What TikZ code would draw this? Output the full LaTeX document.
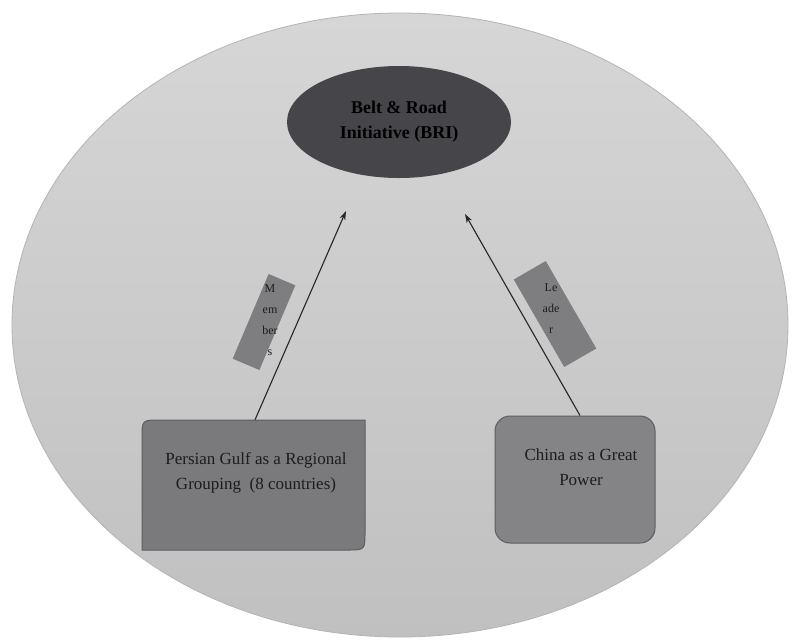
\documentclass[tikz,border=0pt]{standalone}
\usepackage{fontspec}
\setmainfont{LiberationSerif}[Extension=.ttf, UprightFont=*-Regular, BoldFont=*-Bold, ItalicFont=*-Italic, BoldItalicFont=*-BoldItalic]
\usetikzlibrary{shapes.geometric,arrows.meta}
\definecolor{frameTop}{HTML}{D6D6D6}
\definecolor{frameBot}{HTML}{C0C0C0}
\definecolor{frameEdge}{HTML}{B4B4B4}
\definecolor{darkell}{HTML}{46464A}
\definecolor{gulfgray}{HTML}{7A7A7C}
\definecolor{chinagray}{HTML}{848486}
\definecolor{boxedge}{HTML}{5E5E60}
\definecolor{labelgray}{HTML}{7E7E80}
\definecolor{inktext}{HTML}{1C1C1C}
\begin{document}
\begin{tikzpicture}[x=1pt,y=-1pt,
  arr/.style={draw=black!85, line width=1.1pt, -{Stealth[length=9pt,width=6pt]}},
  labelbox/.style={draw=none, fill=labelgray, inner sep=0pt},
  labeltext/.style={font=\fontsize{12}{21}\selectfont, align=center, text=inktext, inner sep=0pt},
  boxtext/.style={font=\fontsize{17}{25}\selectfont, align=center, text=inktext, inner sep=0pt},
  ghost/.style={inner sep=0pt, draw=none}]
\useasboundingbox (0,0) rectangle (806,641);
\fill[white] (0,0) rectangle (806,641);
% big background ellipse
\node[ellipse, ghost, minimum width=776pt, minimum height=624pt, top color=frameTop, bottom color=frameBot, draw=frameEdge, line width=0.8pt] (frame) at (400,325) {};
% BRI ellipse
\node[ellipse, ghost, fill=darkell, minimum width=224pt, minimum height=112pt,
      font=\fontsize{18}{25}\selectfont\bfseries, align=center, text=black] (bri) at (399,122) {Belt \& Road\\Initiative (BRI)};
% Persian Gulf box
\path[draw=boxedge, fill=gulfgray, line width=1pt] (142,550) -- (142,438) .. controls (142,420) .. (160,420) -- (365,420) -- (365,532) .. controls (365,550) .. (347,550) -- cycle;
\node[ghost, minimum width=223pt, minimum height=130pt] (gulfbox) at (253.5,485) {};
\node[boxtext] (gulf) at (256,473) {Persian Gulf as a Regional\\Grouping\ \ (8 countries)};
% China box
\node[ghost, draw=boxedge, fill=chinagray, line width=1pt, rounded corners=15pt, minimum width=160pt, minimum height=127pt] (chinabox) at (575,479.5) {};
\node[boxtext] (china) at (581,467) {China as a Great\\Power};
% label boxes
\node[labelbox, rotate=-23, minimum width=29pt, minimum height=92pt] (memberbox) at (264,322) {};
\node[labeltext] (membertext) at (270,320) {M\\em\\ber\\s};
\node[labelbox, rotate=30, minimum width=37pt, minimum height=101pt] (leaderbox) at (555,314) {};
\node[labeltext] (leadertext) at (551,309) {Le\\ade\\r};
% arrows
\coordinate (tipL) at (346,211);
\coordinate (tipR) at (465,214);
\draw[arr] ([xshift=1.5pt]gulfbox.north) -- (tipL);
\draw[arr] ([xshift=5pt]chinabox.north) -- (tipR);
\end{tikzpicture}
\end{document}
